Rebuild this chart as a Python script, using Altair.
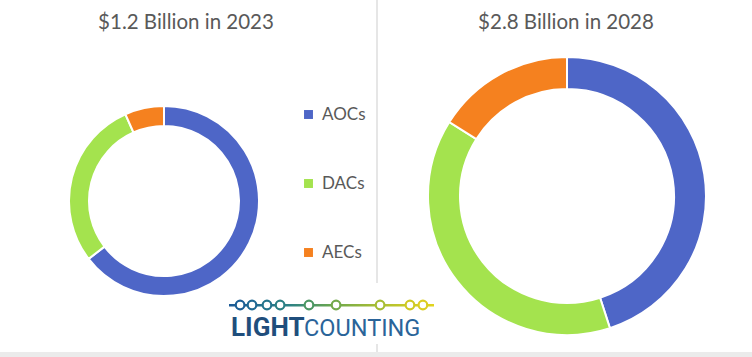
import altair as alt
import pandas as pd

# ---- data ----
categories = ["AOCs", "DACs", "AECs"]
colors = ["#4E66C7", "#A4E34E", "#F5811F"]
values_2023 = [0.775, 0.345, 0.08]   # $ billion
values_2028 = [1.26, 1.09, 0.45]     # $ billion
titles = ["$1.2 Billion in 2023", "$2.8 Billion in 2028"]

logo_words = ["LIGHT", "COUNTING"]
logo_nodes = [0.05, 0.109, 0.183, 0.248, 0.391, 0.525, 0.743, 0.891, 0.955]
logo_node_colors = ["#1d5f95", "#1f6893", "#24748c", "#2b7f84", "#4c9763",
                    "#73a94a", "#a6bd35", "#cfc925", "#dccd22"]

df23 = pd.DataFrame({"category": categories, "value": values_2023, "ord": list(range(len(categories)))})
df28 = pd.DataFrame({"category": categories, "value": values_2028, "ord": list(range(len(categories)))})
nodes = pd.DataFrame({"pos": logo_nodes, "col": logo_node_colors})

legend = alt.Legend(
    orient="none", legendX=300, legendY=106, title=None,
    symbolType="square", symbolSize=80, symbolStrokeWidth=0,
    labelFontSize=17, labelColor="#595959", labelFont="Lato",
    rowPadding=51, labelOffset=5,
)
color = alt.Color("category:N", scale=alt.Scale(domain=categories, range=colors), legend=legend)


def donut(df, cx, cy, r_in, r_out):
    return alt.Chart(df).mark_arc(
        innerRadius=r_in, outerRadius=r_out, stroke="white", strokeWidth=2
    ).encode(
        theta=alt.Theta("value:Q", stack=True),
        color=color,
        order=alt.Order("ord:Q"),
        x=alt.value(cx),
        y=alt.value(cy),
    )


def title_text(t, cx):
    return alt.Chart(pd.DataFrame({"t": [t]})).mark_text(
        font="Lato", fontSize=20.5, color="#595959", align="center", baseline="alphabetic"
    ).encode(text="t:N", x=alt.value(cx), y=alt.value(29))


arc23 = donut(df23, 164, 201, 75, 95)
arc28 = donut(df28, 567, 196, 107, 139)

divider1 = alt.Chart(pd.DataFrame({"a": [0]})).mark_rule(color="#dedede", strokeWidth=1.5).encode(
    x=alt.value(377), y=alt.value(0), y2=alt.value(283))
divider2 = alt.Chart(pd.DataFrame({"a": [0]})).mark_rule(color="#dedede", strokeWidth=1.5).encode(
    x=alt.value(377), y=alt.value(344), y2=alt.value(352))
band = alt.Chart(pd.DataFrame({"a": [0]})).mark_rect(color="#ebebeb").encode(
    x=alt.value(0), x2=alt.value(752), y=alt.value(352), y2=alt.value(357))

logo_line = alt.Chart(pd.DataFrame({"a": [0]})).mark_rect(
    fill=alt.LinearGradient(
        gradient="linear", x1=0, x2=1, y1=0, y2=0,
        stops=[
            alt.GradientStop(offset=0, color="#1c5a96"),
            alt.GradientStop(offset=0.3, color="#2d8284"),
            alt.GradientStop(offset=0.5, color="#6aa74f"),
            alt.GradientStop(offset=0.75, color="#b0c030"),
            alt.GradientStop(offset=1, color="#e2d41e"),
        ],
    )
).encode(x=alt.value(229), x2=alt.value(434), y=alt.value(304), y2=alt.value(306.5))

logo_pts = alt.Chart(nodes).mark_point(shape="circle", fill="white", fillOpacity=1, strokeWidth=2.2, size=75, opacity=1).encode(
    x=alt.X("pos:Q", scale=alt.Scale(domain=[0, 1], range=[230, 432]), axis=None),
    y=alt.value(305),
    stroke=alt.Stroke("col:N", scale=None),
)

logo_a = alt.Chart(pd.DataFrame({"t": [logo_words[0]]})).mark_text(
    font="Roboto", fontWeight="bold", fontSize=26, color="#1f4e7c", align="left", baseline="alphabetic"
).encode(text="t:N", x=alt.value(231), y=alt.value(336))
logo_b = alt.Chart(pd.DataFrame({"t": [logo_words[1]]})).mark_text(
    font="Roboto", fontSize=23.5, color="#2a6499", align="left", baseline="alphabetic"
).encode(text="t:N", x=alt.value(304), y=alt.value(336))

chart = alt.layer(
    band, divider1, divider2,
    arc23, arc28,
    title_text(titles[0], 186), title_text(titles[1], 566),
    logo_line, logo_pts, logo_a, logo_b,
).resolve_scale(theta="independent").properties(
    width=752, height=357, padding=0,
    autosize=alt.AutoSizeParams(type="none"),
    background="white",
).configure_view(stroke=None)

chart.save("out.html", embed_options={"renderer": "svg", "actions": False})
